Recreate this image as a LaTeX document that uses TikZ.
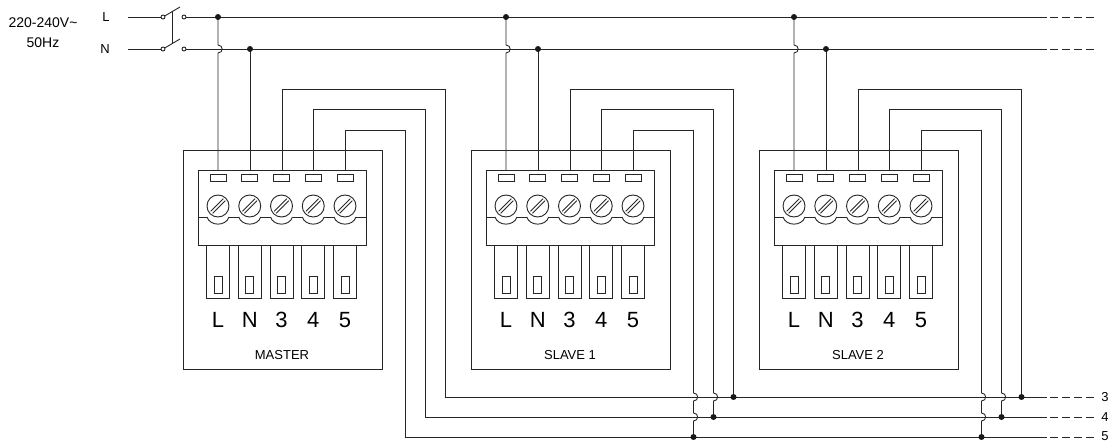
\documentclass[tikz,border=0pt]{standalone}
\usepackage{fontspec}
\setmainfont{Liberation Sans}
\tikzset{
  wire/.style={draw=black!85, line width=0.9pt},
  dashend/.style={wire, dash pattern=on 8pt off 4pt},
  jdot/.style={fill=black!90},
  termlbl/.style={inner sep=0pt, font=\fontsize{22}{22}\selectfont},
  namelbl/.style={inner sep=0pt, font=\fontsize{13}{13}\selectfont},
  smalllbl/.style={inner sep=0pt, font=\fontsize{13}{13}\selectfont},
  mainslbl/.style={inner sep=0pt, font=\fontsize{14}{14}\selectfont},
}
\newcommand\drawmodule[3]{% #1 shift, #2 text, #3 prefix
\begin{scope}[shift={(#1,0)}]
  \draw[wire] (183,150) rectangle (382,369);
  % top wiring of terminals 3,4,5
  \draw[wire] (282,174) -- (282,89) -- (445.5,89);
  \draw[wire] (313.75,174) -- (313.75,109.5) -- (425.5,109.5);
  \draw[wire] (345.5,174) -- (345.5,130) -- (405.5,130);
  % supply wires
  \draw[wire] (218,17) -- (218,45) .. controls (223.5,45) and (223.5,53) .. (218,53) -- (218,174);
  \draw[wire] (250,49) -- (250,174);
  \fill[jdot] (218,17) circle (3pt);
  \fill[jdot] (250,49) circle (3pt);
  % terminal block
  \draw[wire, fill=white] (198,170) rectangle (366,245);
  \draw[wire] (198,217) -- (207,217);
  \draw[wire] (355.5,217) -- (366,217);
  \foreach \i [evaluate=\i as \c using 218+31.75*\i] in {0,...,4}{
    \draw[wire] (\c-8,174) rectangle (\c+8,181);
    \draw[wire] (\c,206) circle (11pt);
    \draw[wire] (\c-7.4,211.3) -- (\c+5.3,198.6);
    \draw[wire] (\c-5.3,213.4) -- (\c+7.4,200.7);
    \draw[wire] (\c-11,217) .. controls (\c-8,226.5) and (\c+8,226.5) .. (\c+11,217);
    \draw[wire] (\c-11.5,245) rectangle (\c+11.5,298);
    \draw[wire] (\c-4,276) rectangle (\c+4,293);
  }
  \foreach \i [evaluate=\i as \c using 218+31.75*\i] in {0,...,3}{
    \draw[wire] (\c+11,217) -- (\c+20.75,217);
  }
  \foreach \i/\t [evaluate=\i as \c using 218+31.75*\i] in {0/L,1/N,2/3,3/4,4/5}{
    \node[termlbl] (#3-t\i) at (\c,320) {\t};
  }
  \node[namelbl] (#3-name) at (282,355) {#2};
\end{scope}}

\begin{document}
\begin{tikzpicture}[x=1pt,y=-1pt]
\useasboundingbox (0,0) rectangle (1111,441);

% labels on the left
\node[mainslbl] (volt) at (43,23) {220-240V\char`\~};
\node[mainslbl] (hz) at (43,43) {50Hz};
\node[smalllbl] (lL) at (106,17) {L};
\node[smalllbl] (lN) at (105,49) {N};

% supply lines and switch
\draw[wire] (128,17) -- (163,17);
\draw[wire] (128,49) -- (163,49);
\draw[wire] (163,17) -- (180,7);
\draw[wire] (163,49) -- (180,39);
\draw[wire] (172,10.7) -- (172,43.7);
\draw[wire] (186,17) -- (1047,17);
\draw[wire] (186,49) -- (1047,49);
\draw[dashend] (1050,17) -- (1094,17);
\draw[dashend] (1050,49) -- (1094,49);
\foreach \y in {17,49}{
  \draw[wire, fill=white] (163,\y) circle (2pt);
  \draw[wire, fill=white] (184,\y) circle (2pt);
}

% modules
\drawmodule{0}{MASTER}{m}
\drawmodule{288}{SLAVE 1}{s1}
\drawmodule{576}{SLAVE 2}{s2}

% bus lines from master
\draw[wire] (445.5,89) -- (445.5,397) -- (1047,397);
\draw[wire] (425.5,109.5) -- (425.5,417) -- (1047,417);
\draw[wire] (405.5,130) -- (405.5,437) -- (1047,437);
\draw[dashend] (1050,397) -- (1094,397);
\draw[dashend] (1050,417) -- (1094,417);
\draw[dashend] (1050,437) -- (1094,437);

% slave taps
\foreach \o in {288,576}{
  \draw[wire] (445.5+\o,89) -- (445.5+\o,397);
  \fill[jdot] (445.5+\o,397) circle (3pt);
  \draw[wire] (425.5+\o,109.5) -- (425.5+\o,393)
     .. controls (431+\o,393) and (431+\o,401) .. (425.5+\o,401) -- (425.5+\o,417);
  \fill[jdot] (425.5+\o,417) circle (3pt);
  \draw[wire] (405.5+\o,130) -- (405.5+\o,393)
     .. controls (411+\o,393) and (411+\o,401) .. (405.5+\o,401) -- (405.5+\o,413)
     .. controls (411+\o,413) and (411+\o,421) .. (405.5+\o,421) -- (405.5+\o,437);
  \fill[jdot] (405.5+\o,437) circle (3pt);
}

% right labels
\node[smalllbl] (r3) at (1105,397) {3};
\node[smalllbl] (r4) at (1105,417) {4};
\node[smalllbl] (r5) at (1105,436) {5};
\end{tikzpicture}
\end{document}
